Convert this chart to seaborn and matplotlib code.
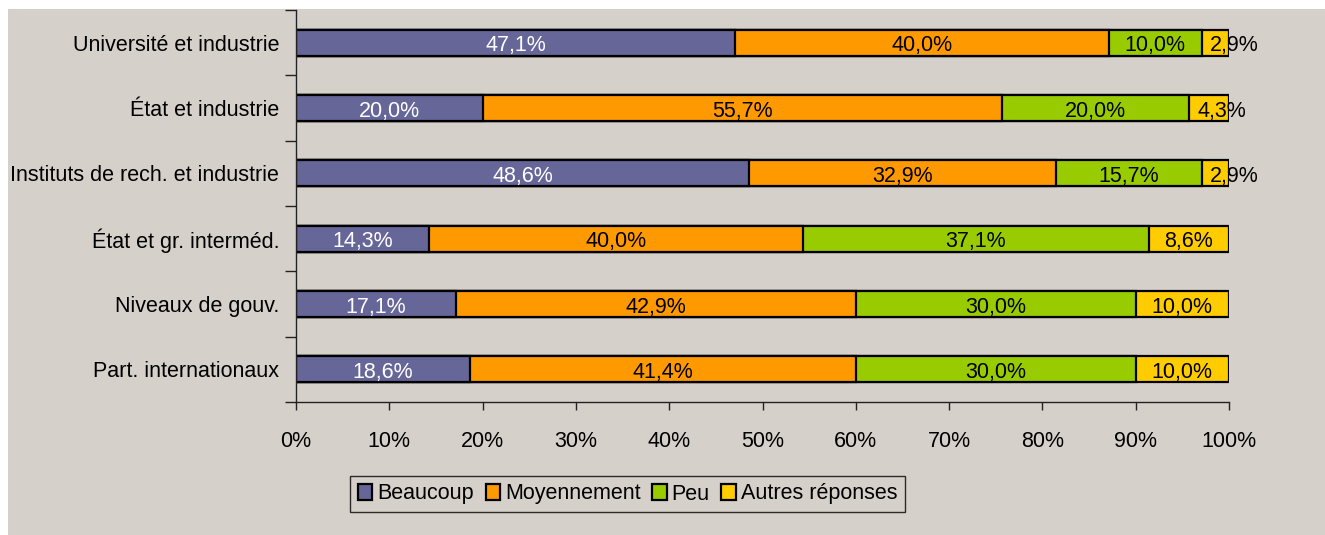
import numpy as np
import pandas as pd
import matplotlib
matplotlib.use("Agg")
import matplotlib.pyplot as plt
import seaborn as sns
from matplotlib.patches import Rectangle, Patch

categories = ["Université et industrie", "État et industrie", "Instituts de rech. et industrie",
              "État et gr. interméd.", "Niveaux de gouv.", "Part. internationaux"]
series = ["Beaucoup", "Moyennement", "Peu", "Autres réponses"]
beaucoup = [47.1, 20.0, 48.6, 14.3, 17.1, 18.6]
moyennement = [40.0, 55.7, 32.9, 40.0, 42.9, 41.4]
peu = [10.0, 20.0, 15.7, 37.1, 30.0, 30.0]
autres = [2.9, 4.3, 2.9, 8.6, 10.0, 10.0]
xticklabels = ["0%", "10%", "20%", "30%", "40%", "50%", "60%", "70%", "80%", "90%", "100%"]

colors = ["#666699", "#FF9900", "#99CC00", "#FFCC00"]
text_colors = ["white", "black", "black", "black"]
bg = "#D6D0CA"
fs = 15.5

sns.set_theme(style="white")
plt.rcParams["font.family"] = ["Liberation Sans", "DejaVu Sans"]
plt.rcParams["text.color"] = "black"
plt.rcParams["xtick.color"] = "black"
plt.rcParams["ytick.color"] = "black"

vals = np.array([beaucoup, moyennement, peu, autres])  # series x categories
totals = vals.sum(axis=0)
cum = np.cumsum(vals, axis=0) / totals * 100.0
starts = np.vstack([np.zeros(len(categories)), cum[:-1]])

fig = plt.figure(figsize=(13.25, 5.35), dpi=100, facecolor="white")
bgax = fig.add_axes([8 / 1325, 0, 1 - 8 / 1325, 1 - 9 / 535], zorder=-10)
bgax.set_facecolor(bg)
bgax.set_axis_off()
bgax.add_patch(Rectangle((0, 0), 1, 1, transform=bgax.transAxes, facecolor=bg, edgecolor="none"))

ax = fig.add_axes([296 / 1325, 1 - 402 / 535, (1229 - 296) / 1325, (402 - 10) / 535], zorder=1)
ax.patch.set_alpha(0)

for i in reversed(range(len(series))):
    df = pd.DataFrame({"cat": categories, "cum": cum[i]})
    sns.barplot(data=df, x="cum", y="cat", color=colors[i], saturation=1, width=0.4,
                edgecolor="black", linewidth=1.6, ax=ax, orient="h")

for i in range(len(series)):
    for j in range(len(categories)):
        v = vals[i, j]
        lab = f"{v:.1f}%".replace(".", ",")
        s = starts[i, j]
        if v < 6:
            ax.text(s + 0.9, j + 0.05, lab, ha="left", va="center", color=text_colors[i], fontsize=fs)
        else:
            ax.text(s + v * 100 / totals[j] / 2, j + 0.05, lab, ha="center", va="center",
                    color=text_colors[i], fontsize=fs)

ax.set_xlim(0, 100)
ax.set_ylim(len(categories) - 0.5, -0.5)
ax.set_xticks(np.arange(0, 101, 10))
ax.set_xticklabels(xticklabels, fontsize=fs)
ax.set_yticks(range(len(categories)))
ax.set_yticklabels(categories, fontsize=fs)
ax.set_yticks(np.arange(-0.5, len(categories)), minor=True)
ax.tick_params(axis="y", which="major", length=0, pad=12)
ax.tick_params(axis="y", which="minor", length=8, width=1, color="#222222", direction="out", left=True)
ax.tick_params(axis="x", which="major", length=6, width=1, color="#222222", direction="out",
               bottom=True, pad=15)
ax.set_xlabel("")
ax.set_ylabel("")
for sp in ["top", "right"]:
    ax.spines[sp].set_visible(False)
for sp in ["left", "bottom"]:
    ax.spines[sp].set_color("#222222")
    ax.spines[sp].set_linewidth(1)
ax.grid(False)

handles = [Patch(facecolor=c, edgecolor="black", linewidth=1.6) for c in colors]
leg = fig.legend(handles, series, loc="center", bbox_to_anchor=(627.5 / 1325, 1 - 494 / 535),
                 ncol=4, fontsize=fs, frameon=True, fancybox=False, handlelength=0.67,
                 handleheight=0.8, handletextpad=0.22, columnspacing=0.55, borderpad=0.35)
leg.get_frame().set_edgecolor("black")
leg.get_frame().set_facecolor(bg)
leg.get_frame().set_linewidth(1)

fig.savefig("out.png", dpi=100, facecolor=fig.get_facecolor())
